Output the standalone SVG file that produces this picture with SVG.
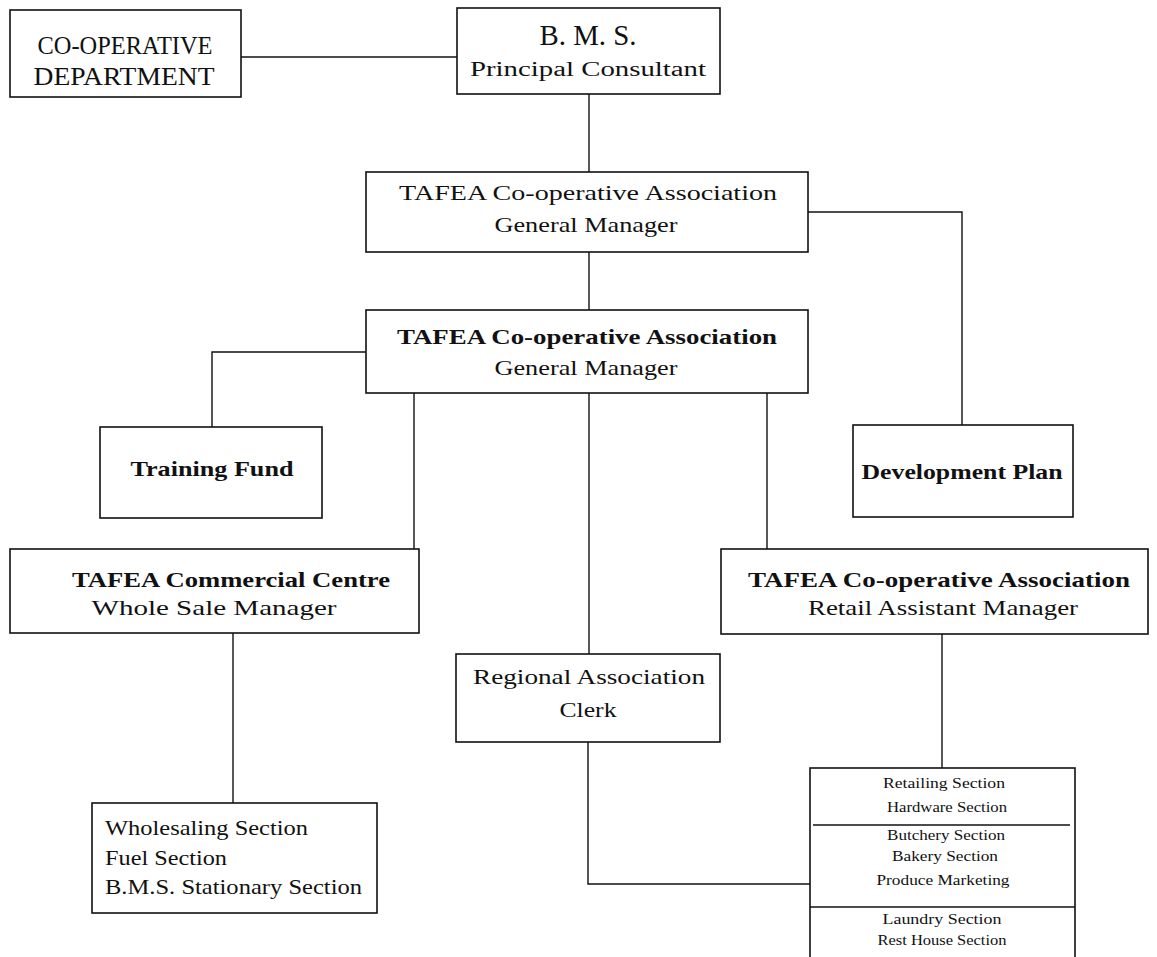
<svg xmlns="http://www.w3.org/2000/svg" width="1157" height="957" viewBox="0 0 1157 957">
<style>
.box{fill:#fff;stroke:#111;stroke-width:1.6}
.conn{fill:none;stroke:#111;stroke-width:1.4}
.div{stroke:#111;stroke-width:1.3}
text{font-family:"Liberation Serif","Times New Roman",serif;fill:#111;text-anchor:middle}
.t{font-size:22px}
.b{font-weight:bold}
.s{font-size:15px}
.l{text-anchor:start}
</style>
<rect width="1157" height="957" fill="#fff"/>
<g id="connectors">
  <path class="conn" d="M241,57 H457"/>
  <path class="conn" d="M589,94 V172"/>
  <path class="conn" d="M808,212 H962 V425"/>
  <path class="conn" d="M589,252 V310"/>
  <path class="conn" d="M366,352 H212 V427"/>
  <path class="conn" d="M414,393 V549"/>
  <path class="conn" d="M589,393 V654"/>
  <path class="conn" d="M767,393 V549"/>
  <path class="conn" d="M233,633 V803"/>
  <path class="conn" d="M942,634 V768"/>
  <path class="conn" d="M588,742 V884 H810"/>
</g>
<g id="coop-dept">
  <rect class="box" x="10" y="10" width="231" height="87"/>
  <text x="125" y="54" font-size="25" textLength="175" lengthAdjust="spacingAndGlyphs">CO-OPERATIVE</text>
  <text x="124" y="85" font-size="25" textLength="181" lengthAdjust="spacingAndGlyphs">DEPARTMENT</text>
</g>
<g id="bms">
  <rect class="box" x="457" y="8" width="263" height="86"/>
  <text x="588" y="45" font-size="29" textLength="97" lengthAdjust="spacingAndGlyphs">B. M. S.</text>
  <text x="588" y="76" font-size="20" textLength="236" lengthAdjust="spacingAndGlyphs">Principal Consultant</text>
</g>
<g id="gm1">
  <rect class="box" x="366" y="172" width="442" height="80"/>
  <text class="t" x="588" y="200" textLength="378" lengthAdjust="spacingAndGlyphs">TAFEA Co-operative Association</text>
  <text class="t" x="586" y="232" textLength="183" lengthAdjust="spacingAndGlyphs">General Manager</text>
</g>
<g id="gm2">
  <rect class="box" x="366" y="310" width="442" height="83"/>
  <text class="t b" x="587" y="344" textLength="380" lengthAdjust="spacingAndGlyphs">TAFEA Co-operative Association</text>
  <text class="t" x="586" y="375" textLength="183" lengthAdjust="spacingAndGlyphs">General Manager</text>
</g>
<g id="training-fund">
  <rect class="box" x="100" y="427" width="222" height="91"/>
  <text class="t b" x="212" y="476" textLength="163" lengthAdjust="spacingAndGlyphs">Training Fund</text>
</g>
<g id="development-plan">
  <rect class="box" x="853" y="425" width="220" height="92"/>
  <text class="t b" x="962" y="479" textLength="201" lengthAdjust="spacingAndGlyphs">Development Plan</text>
</g>
<g id="commercial-centre">
  <rect class="box" x="10" y="549" width="409" height="84"/>
  <text class="t b" x="231" y="587" textLength="318" lengthAdjust="spacingAndGlyphs">TAFEA Commercial Centre</text>
  <text class="t" x="214" y="615" textLength="245" lengthAdjust="spacingAndGlyphs">Whole Sale Manager</text>
</g>
<g id="retail">
  <rect class="box" x="721" y="549" width="427" height="85"/>
  <text class="t b" x="939" y="587" textLength="382" lengthAdjust="spacingAndGlyphs">TAFEA Co-operative Association</text>
  <text class="t" x="943" y="615" textLength="270" lengthAdjust="spacingAndGlyphs">Retail Assistant Manager</text>
</g>
<g id="regional">
  <rect class="box" x="456" y="654" width="264" height="88"/>
  <text class="t" x="589" y="684" textLength="232" lengthAdjust="spacingAndGlyphs">Regional Association</text>
  <text class="t" x="588" y="717" textLength="57" lengthAdjust="spacingAndGlyphs">Clerk</text>
</g>
<g id="wholesale-sections">
  <rect class="box" x="92" y="803" width="285" height="110"/>
  <text class="t l" x="105" y="835" textLength="203" lengthAdjust="spacingAndGlyphs">Wholesaling Section</text>
  <text class="t l" x="105" y="865" textLength="122" lengthAdjust="spacingAndGlyphs">Fuel Section</text>
  <text class="t l" x="105" y="894" textLength="257" lengthAdjust="spacingAndGlyphs">B.M.S. Stationary Section</text>
</g>
<g id="retail-sections">
  <rect class="box" x="810" y="768" width="265" height="210"/>
  <line class="div" x1="813" y1="825" x2="1070" y2="825"/>
  <line class="div" x1="810" y1="907" x2="1075" y2="907"/>
  <text class="s" x="944" y="788" textLength="122" lengthAdjust="spacingAndGlyphs">Retailing Section</text>
  <text class="s" x="947" y="812" textLength="120" lengthAdjust="spacingAndGlyphs">Hardware Section</text>
  <text class="s" x="946" y="840" textLength="118" lengthAdjust="spacingAndGlyphs">Butchery Section</text>
  <text class="s" x="945" y="861" textLength="106" lengthAdjust="spacingAndGlyphs">Bakery Section</text>
  <text class="s" x="943" y="885" textLength="133" lengthAdjust="spacingAndGlyphs">Produce Marketing</text>
  <text class="s" x="942" y="924" textLength="119" lengthAdjust="spacingAndGlyphs">Laundry Section</text>
  <text class="s" x="942" y="945" textLength="129" lengthAdjust="spacingAndGlyphs">Rest House Section</text>
</g>
</svg>
